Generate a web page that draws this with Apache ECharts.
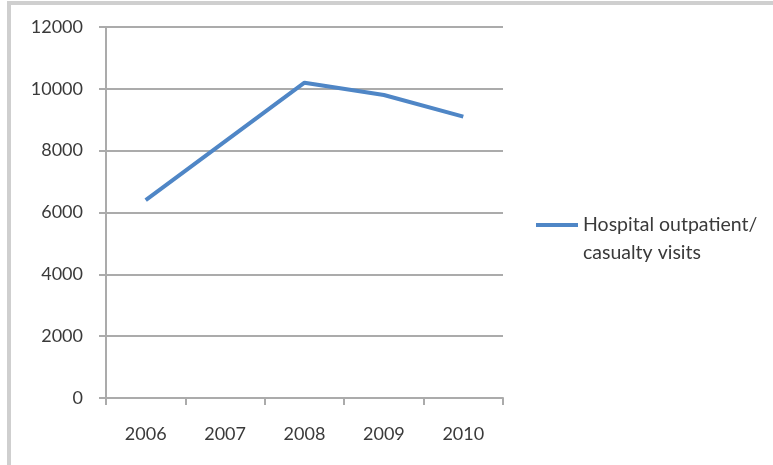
<!DOCTYPE html>
<html>
<head>
<meta charset="utf-8">
<script src="https://cdn.jsdelivr.net/npm/echarts@6/dist/echarts.min.js"></script>
<style>
  html, body { margin: 0; padding: 0; background: #fff; }
  #chart { width: 773px; height: 465px; }
</style>
</head>
<body>
<div id="chart"></div>
<script>
// Annual hospital outpatient / casualty visits
const years = ['2006', '2007', '2008', '2009', '2010'];
const visits = [6400, 8300, 10200, 9800, 9100];
const seriesName = 'Hospital outpatient/\ncasualty visits';
const yTicks = { min: 0, max: 12000, interval: 2000 };

const chart = echarts.init(document.getElementById('chart'));
const textFont = 'Lato';
const gridColor = '#ababab';

chart.setOption({
  animation: false,
  backgroundColor: '#fff',
  graphic: [
    { type: 'rect', shape: { x: 7, y: 1, width: 766, height: 4 }, style: { fill: '#cfcfcf' }, silent: true },
    { type: 'rect', shape: { x: 7, y: 1, width: 4, height: 464 }, style: { fill: '#cfcfcf' }, silent: true }
  ],
  grid: { left: 106, right: 270, top: 27, bottom: 67 },
  xAxis: {
    type: 'category',
    data: years,
    boundaryGap: true,
    axisLine: { lineStyle: { color: gridColor, width: 2 } },
    axisTick: { show: true, length: 7, lineStyle: { color: gridColor, width: 2 } },
    axisLabel: { margin: 27, color: '#3a3a3a', fontFamily: textFont, fontSize: 18 }
  },
  yAxis: {
    type: 'value',
    min: yTicks.min,
    max: yTicks.max,
    interval: yTicks.interval,
    axisLine: { show: true, lineStyle: { color: gridColor, width: 2 } },
    axisTick: { show: true, length: 7, lineStyle: { color: gridColor, width: 2 } },
    axisLabel: {
      margin: 23, color: '#3a3a3a', fontFamily: textFont, fontSize: 18,
      formatter: v => String(v)
    },
    splitLine: { lineStyle: { color: gridColor, width: 2 } }
  },
  legend: {
    orient: 'vertical',
    left: 536,
    top: 183,
    padding: 0,
    icon: 'rect',
    itemWidth: 42,
    itemHeight: 4,
    textStyle: {
      color: '#3a3a3a',
      fontFamily: textFont,
      fontSize: 19.5,
      lineHeight: 28
    },
    // leading blank line keeps the first text line level with the icon
    formatter: name => '\n' + name,
    data: [seriesName]
  },
  series: [{
    name: seriesName,
    type: 'line',
    data: visits,
    symbol: 'none',
    lineStyle: { color: '#4f86c6', width: 4 },
    itemStyle: { color: '#4f86c6' }
  }]
});
</script>
</body>
</html>
